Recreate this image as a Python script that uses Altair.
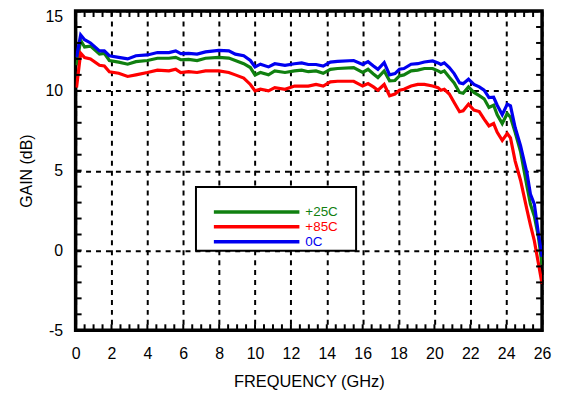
import altair as alt
import pandas as pd

# ---- data ----
freq = [0.05, 0.28, 0.5, 0.83, 1.33, 1.6, 1.88, 2.4, 2.9, 3.36, 4.0, 4.56, 5.2, 5.58,
        5.86, 6.3, 6.77, 7.24, 7.98, 8.54, 8.9, 9.37, 9.74, 10.0, 10.3, 10.75, 11.1,
        11.67, 12.2, 12.6, 12.97, 13.4, 13.8, 14.2, 14.6, 15.5, 16.0, 16.3, 16.6,
        16.85, 17.2, 17.5, 17.8, 18.05, 18.3, 18.7, 19.07, 19.44, 19.9, 20.2, 20.36,
        20.55, 20.83, 21.1, 21.4, 21.6, 21.9, 22.2, 22.5, 22.77, 23.04, 23.3, 23.5,
        23.78, 24.06, 24.24, 24.5, 24.8, 25.17, 25.35, 25.57, 25.8, 26.0]

gain_25c = [11.6, 13.17, 12.75, 12.8, 12.3, 12.35, 11.9, 11.8, 11.67, 11.83, 11.9, 12.04,
            12.04, 12.1, 11.95, 11.97, 11.9, 12.04, 12.1, 12.05, 11.9, 11.7, 11.46, 11.0,
            11.15, 11.0, 11.25, 11.15, 11.25, 11.3, 11.2, 11.25, 11.1, 11.35, 11.4, 11.46,
            11.15, 11.35, 11.06, 10.83, 11.25, 10.63, 10.65, 10.94, 11.0, 11.25, 11.3,
            11.4, 11.4, 11.25, 11.15, 11.25, 10.85, 10.5, 9.9, 9.85, 10.25, 9.9, 9.7, 9.5,
            8.96, 9.1, 8.5, 7.95, 8.58, 8.35, 7.4, 6.2, 3.95, 2.9, 2.15, 0.83, -0.9]

gain_85c = [10.2, 12.36, 12.08, 12.0, 11.6, 11.56, 11.19, 11.1, 10.9, 11.0, 11.15, 11.3,
            11.25, 11.35, 11.15, 11.2, 11.15, 11.25, 11.25, 11.15, 11.0, 10.8, 10.4, 10.0,
            10.1, 10.0, 10.2, 10.1, 10.3, 10.3, 10.3, 10.4, 10.3, 10.56, 10.6, 10.6, 10.3,
            10.45, 10.25, 10.04, 10.4, 9.69, 9.8, 10.04, 10.1, 10.3, 10.4, 10.4, 10.3, 10.2,
            10.04, 10.1, 9.8, 9.27, 8.69, 8.75, 9.17, 8.8, 8.7, 8.23, 7.8, 7.95, 7.4, 6.9,
            7.33, 7.05, 5.6, 4.4, 2.5, 1.6, 0.6, -0.83, -2.1]

gain_0c = [12.1, 13.5, 13.2, 13.0, 12.5, 12.5, 12.2, 12.1, 12.0, 12.2, 12.25, 12.4, 12.4,
           12.5, 12.33, 12.35, 12.3, 12.44, 12.54, 12.5, 12.3, 12.2, 11.9, 11.5, 11.67,
           11.5, 11.7, 11.6, 11.7, 11.75, 11.65, 11.65, 11.55, 11.8, 11.85, 11.9, 11.65,
           11.83, 11.56, 11.35, 11.77, 11.0, 11.08, 11.35, 11.4, 11.67, 11.7, 11.81, 11.87,
           11.75, 11.65, 11.75, 11.46, 11.08, 10.5, 10.45, 10.73, 10.4, 10.25, 10.04, 9.58,
           9.6, 9.1, 8.5, 9.17, 9.06, 7.7, 6.56, 4.79, 3.54, 2.9, 1.04, -0.4]

series_names = ["+25C", "+85C", "0C"]
series_colors = ["#108010", "#ff0000", "#0000f0"]

x_major = list(range(0, 27, 2))
y_major = [-5, 0, 5, 10, 15]
x_minor = [i * 0.5 for i in range(0, 53)]
y_minor = list(range(-5, 16))

W, H = 469, 321
FONT = "Liberation Sans"

rows = []
for name, vals in zip(series_names, [gain_25c, gain_85c, gain_0c]):
    for f, g in zip(freq, vals):
        rows.append({"freq": f, "gain": g, "series": name})
df = pd.DataFrame(rows)

xscale = alt.Scale(domain=[0, 26], nice=False, zero=False)
yscale = alt.Scale(domain=[-5, 15], nice=False, zero=False)

axis_x = alt.Axis(
    values=x_major, title="FREQUENCY (GHz)", grid=True, gridDash=[5, 5],
    gridColor="black", gridWidth=2, gridOpacity=1, ticks=False, domain=False,
    labelFont=FONT, labelFontSize=16, labelColor="black", labelPadding=15,
    labelFlush=False, labelOverlap=False, labelExpr="'' + datum.value",
    titleFont=FONT, titleFontSize=16.5, titleFontWeight="normal",
    titleColor="black", titlePadding=13)
axis_y = alt.Axis(
    values=y_major, title="GAIN (dB)", grid=True, gridDash=[5, 5],
    gridColor="black", gridWidth=2, gridOpacity=1, ticks=False, domain=False,
    labelFont=FONT, labelFontSize=16, labelColor="black", labelPadding=13,
    labelFlush=False, labelOverlap=False, labelExpr="'' + datum.value",
    labelOffset={"condition": {"test": "datum.value == 15", "value": 6}, "value": 0},
    titleFont=FONT, titleFontSize=16, titleFontWeight="normal",
    titleColor="black", titlePadding=11)

lines = alt.Chart(df).mark_line(strokeWidth=3.2, clip=True).encode(
    x=alt.X("freq:Q", scale=xscale, axis=axis_x),
    y=alt.Y("gain:Q", scale=yscale, axis=axis_y),
    color=alt.Color("series:N", scale=alt.Scale(domain=series_names, range=series_colors),
                    legend=None),
    order=alt.Order("freq:Q"),
    detail="series:N",
)

xt = pd.DataFrame({"freq": x_minor})
yt = pd.DataFrame({"gain": y_minor})
TL = 6
xticks_bottom = alt.Chart(xt).mark_rule(color="black", strokeWidth=2).encode(
    x=alt.X("freq:Q", scale=xscale, axis=axis_x), y=alt.value(H), y2=alt.value(H - TL))
xticks_top = alt.Chart(xt).mark_rule(color="black", strokeWidth=2).encode(
    x=alt.X("freq:Q", scale=xscale, axis=axis_x), y=alt.value(0), y2=alt.value(TL))
yticks_left = alt.Chart(yt).mark_rule(color="black", strokeWidth=2).encode(
    y=alt.Y("gain:Q", scale=yscale, axis=axis_y), x=alt.value(0), x2=alt.value(TL))
yticks_right = alt.Chart(yt).mark_rule(color="black", strokeWidth=2).encode(
    y=alt.Y("gain:Q", scale=yscale, axis=axis_y), x=alt.value(W), x2=alt.value(W - TL))

# legend box (drawn manually)
leg = pd.DataFrame({"series": series_names, "color": series_colors})
box = alt.Chart(pd.DataFrame({"a": [0]})).mark_rect(
    fill="white", stroke="black", strokeWidth=2).encode(
    x=alt.value(121), x2=alt.value(282), y=alt.value(177), y2=alt.value(241))
leg_layers = [box]
for i, (name, col) in enumerate(zip(series_names, series_colors)):
    yy = 202 + 15 * i
    one = leg[leg["series"] == name]
    leg_layers.append(alt.Chart(one).mark_rule(color=col, strokeWidth=3.5).encode(
        x=alt.value(139), x2=alt.value(225), y=alt.value(yy)))
    leg_layers.append(alt.Chart(one).mark_text(
        color=col, font=FONT, fontSize=13.5, align="left", baseline="middle").encode(
        x=alt.value(231), y=alt.value(yy + 0.5), text="series:N"))

chart = alt.layer(
    lines, xticks_bottom, xticks_top, yticks_left, yticks_right, *leg_layers
).properties(
    width=W, height=H,
    autosize=alt.AutoSizeParams(type="none"),
    padding={"left": 68, "top": 2, "right": 12, "bottom": 59},
    background="white",
).configure_view(stroke="black", strokeWidth=3.5)

chart.save("out.html", embed_options={"renderer": "svg", "actions": False})
